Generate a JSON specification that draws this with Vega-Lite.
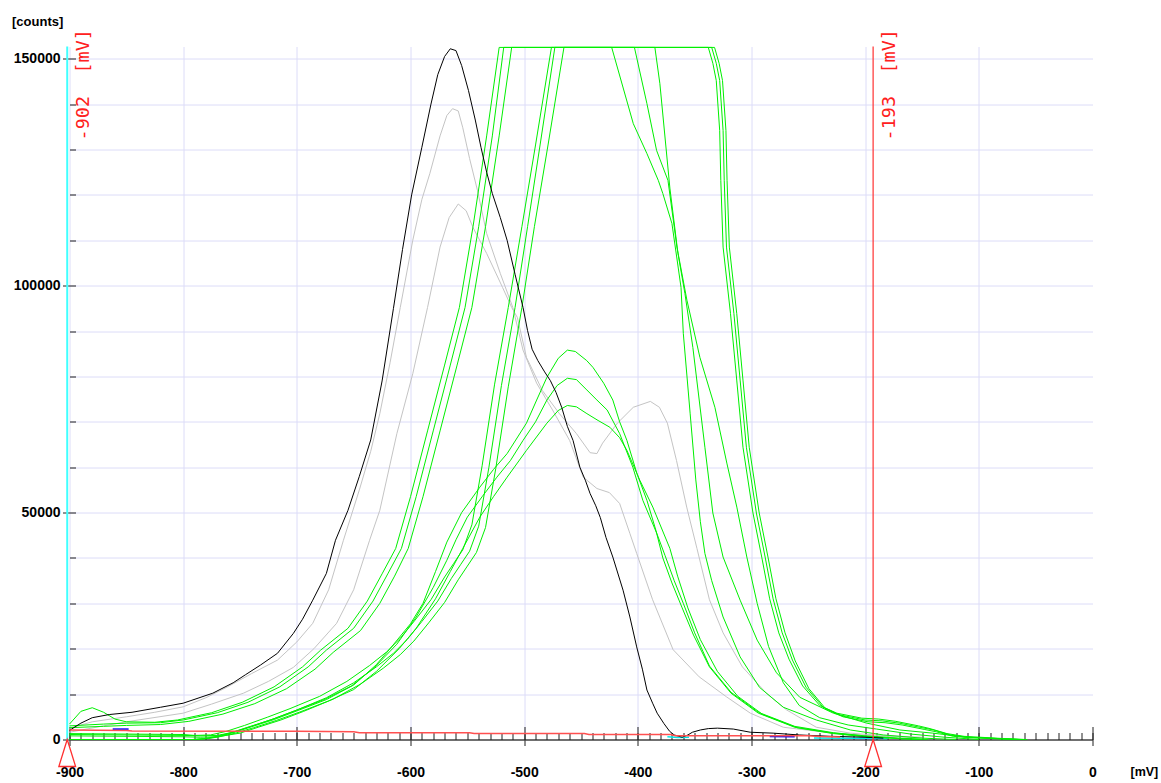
{
"$schema": "https://vega.github.io/schema/vega-lite/v6.json",
"width": 1023,
"height": 693,
"autosize": {"type": "none"},
"padding": {"left": 69.5, "top": 46.5, "right": 68.5, "bottom": 43.5},
"background": "white",
"config": {"view": {"stroke": null}, "axis": {"labelFont": "Liberation Sans", "titleFont": "Liberation Sans"}},
"datasets": {
"cursors": [{"id": "c1", "v": -902, "text": "-902\u00a0\u00a0[mV]"}, {"id": "c2", "v": -193, "text": "-193\u00a0\u00a0[mV]"}],
"blue": [{"s":"bl1","x":-862,"y":2300},{"s":"bl1","x":-848,"y":2300},{"s":"bl2","x":-284,"y":650},{"s":"bl2","x":-262,"y":600},{"s":"bl3","x":-205,"y":250},{"s":"bl3","x":-190,"y":250}],
"cyan": [{"s":"c1","x":-374,"y":600},{"s":"c1","x":-365,"y":450},{"s":"c1","x":-355,"y":500},{"s":"c2","x":-245,"y":350},{"s":"c2","x":-220,"y":300},{"s":"c2","x":-195,"y":250},{"s":"c2","x":-180,"y":200}],
"red": [{"s":"r","x":-900,"y":2100},{"s":"r","x":-850,"y":2000},{"s":"r","x":-845,"y":1900},{"s":"r","x":-700,"y":1800},{"s":"r","x":-650,"y":1700},{"s":"r","x":-645,"y":1500},{"s":"r","x":-548,"y":1480},{"s":"r","x":-544,"y":1340},{"s":"r","x":-447,"y":1340},{"s":"r","x":-443,"y":1120},{"s":"r","x":-371,"y":1120},{"s":"r","x":-367,"y":850},{"s":"r","x":-250,"y":800},{"s":"r","x":-240,"y":650},{"s":"r","x":-222,"y":550}],
"gray": [
{"s":"g1","x":-900,"y":2500},{"s":"g1","x":-880,"y":3900},{"s":"g1","x":-850,"y":5000},{"s":"g1","x":-825,"y":6000},{"s":"g1","x":-800,"y":7200},{"s":"g1","x":-780,"y":9200},{"s":"g1","x":-761,"y":11600},{"s":"g1","x":-740,"y":14500},{"s":"g1","x":-717,"y":17500},{"s":"g1","x":-700,"y":21500},{"s":"g1","x":-686,"y":25600},{"s":"g1","x":-672,"y":33000},{"s":"g1","x":-659,"y":43900},{"s":"g1","x":-645,"y":55000},{"s":"g1","x":-635,"y":63500},{"s":"g1","x":-627,"y":71800},{"s":"g1","x":-618,"y":83000},{"s":"g1","x":-609,"y":95200},{"s":"g1","x":-598,"y":110000},{"s":"g1","x":-590,"y":119000},{"s":"g1","x":-583,"y":124700},{"s":"g1","x":-574,"y":133000},{"s":"g1","x":-568,"y":137500},{"s":"g1","x":-563,"y":139000},{"s":"g1","x":-558,"y":138500},{"s":"g1","x":-554,"y":134800},{"s":"g1","x":-548,"y":128000},{"s":"g1","x":-541,"y":120900},{"s":"g1","x":-533,"y":111500},{"s":"g1","x":-521,"y":102700},{"s":"g1","x":-510,"y":95200},{"s":"g1","x":-501,"y":85800},{"s":"g1","x":-489,"y":78500},{"s":"g1","x":-475,"y":72600},{"s":"g1","x":-460,"y":65900},{"s":"g1","x":-448,"y":57800},{"s":"g1","x":-436,"y":55300},{"s":"g1","x":-425,"y":54400},{"s":"g1","x":-416,"y":52000},{"s":"g1","x":-407,"y":45400},{"s":"g1","x":-401,"y":41000},{"s":"g1","x":-387,"y":30800},{"s":"g1","x":-369,"y":19800},{"s":"g1","x":-346,"y":13800},{"s":"g1","x":-322,"y":9400},{"s":"g1","x":-301,"y":5800},{"s":"g1","x":-272,"y":2700},{"s":"g1","x":-228,"y":1400},{"s":"g1","x":-190,"y":800},{"s":"g1","x":-150,"y":400},
{"s":"g2","x":-900,"y":1600},{"s":"g2","x":-870,"y":3000},{"s":"g2","x":-850,"y":3900},{"s":"g2","x":-800,"y":5800},{"s":"g2","x":-775,"y":7800},{"s":"g2","x":-747,"y":10200},{"s":"g2","x":-725,"y":12800},{"s":"g2","x":-703,"y":15900},{"s":"g2","x":-685,"y":20000},{"s":"g2","x":-665,"y":25600},{"s":"g2","x":-650,"y":33000},{"s":"g2","x":-636,"y":43900},{"s":"g2","x":-627,"y":50500},{"s":"g2","x":-612,"y":67400},{"s":"g2","x":-598,"y":80600},{"s":"g2","x":-585,"y":95200},{"s":"g2","x":-574,"y":108500},{"s":"g2","x":-566,"y":115000},{"s":"g2","x":-558,"y":118000},{"s":"g2","x":-551,"y":116500},{"s":"g2","x":-545,"y":112800},{"s":"g2","x":-533,"y":107100},{"s":"g2","x":-519,"y":99600},{"s":"g2","x":-511,"y":95200},{"s":"g2","x":-506,"y":93000},{"s":"g2","x":-498,"y":84200},{"s":"g2","x":-484,"y":76900},{"s":"g2","x":-469,"y":71800},{"s":"g2","x":-454,"y":67400},{"s":"g2","x":-442,"y":63200},{"s":"g2","x":-436,"y":63000},{"s":"g2","x":-431,"y":65300},{"s":"g2","x":-418,"y":69700},{"s":"g2","x":-404,"y":73200},{"s":"g2","x":-389,"y":74500},{"s":"g2","x":-381,"y":73200},{"s":"g2","x":-374,"y":69700},{"s":"g2","x":-366,"y":61500},{"s":"g2","x":-357,"y":51200},{"s":"g2","x":-348,"y":42100},{"s":"g2","x":-337,"y":30800},{"s":"g2","x":-325,"y":23500},{"s":"g2","x":-308,"y":16000},{"s":"g2","x":-287,"y":10200},{"s":"g2","x":-269,"y":6500},{"s":"g2","x":-243,"y":2700},{"s":"g2","x":-213,"y":1400},{"s":"g2","x":-180,"y":800},{"s":"g2","x":-150,"y":500}
],
"black": [
{"s":"b","x":-900,"y":2000},{"s":"b","x":-890,"y":3600},{"s":"b","x":-880,"y":4800},{"s":"b","x":-865,"y":5500},{"s":"b","x":-845,"y":6000},{"s":"b","x":-820,"y":7100},{"s":"b","x":-800,"y":8000},{"s":"b","x":-774,"y":10200},{"s":"b","x":-756,"y":12500},{"s":"b","x":-745,"y":14300},{"s":"b","x":-732,"y":16400},{"s":"b","x":-717,"y":19000},{"s":"b","x":-703,"y":23400},{"s":"b","x":-695,"y":26500},{"s":"b","x":-686,"y":30700},{"s":"b","x":-674,"y":36600},{"s":"b","x":-666,"y":43900},{"s":"b","x":-655,"y":50500},{"s":"b","x":-645,"y":58000},{"s":"b","x":-635,"y":66000},{"s":"b","x":-625,"y":79000},{"s":"b","x":-615,"y":95000},{"s":"b","x":-607,"y":108000},{"s":"b","x":-599,"y":120000},{"s":"b","x":-590,"y":130500},{"s":"b","x":-582,"y":140000},{"s":"b","x":-576,"y":146500},{"s":"b","x":-570,"y":150500},{"s":"b","x":-565,"y":152200},{"s":"b","x":-560,"y":151800},{"s":"b","x":-555,"y":148500},{"s":"b","x":-549,"y":143000},{"s":"b","x":-543,"y":136500},{"s":"b","x":-538,"y":130500},{"s":"b","x":-533,"y":125000},{"s":"b","x":-528,"y":120300},{"s":"b","x":-521,"y":115000},{"s":"b","x":-515,"y":110000},{"s":"b","x":-508,"y":102500},{"s":"b","x":-501,"y":95200},{"s":"b","x":-497,"y":90100},{"s":"b","x":-493,"y":86000},{"s":"b","x":-488,"y":83500},{"s":"b","x":-482,"y":81000},{"s":"b","x":-477,"y":79100},{"s":"b","x":-472,"y":76500},{"s":"b","x":-467,"y":73200},{"s":"b","x":-462,"y":69000},{"s":"b","x":-457,"y":65900},{"s":"b","x":-451,"y":60000},{"s":"b","x":-446,"y":57000},{"s":"b","x":-442,"y":54200},{"s":"b","x":-437,"y":51500},{"s":"b","x":-433,"y":48900},{"s":"b","x":-428,"y":44500},{"s":"b","x":-422,"y":40200},{"s":"b","x":-413,"y":32900},{"s":"b","x":-407,"y":27000},{"s":"b","x":-401,"y":20400},{"s":"b","x":-396,"y":15500},{"s":"b","x":-392,"y":10900},{"s":"b","x":-387,"y":8000},{"s":"b","x":-383,"y":5800},{"s":"b","x":-377,"y":3500},{"s":"b","x":-372,"y":1800},{"s":"b","x":-368,"y":1000},{"s":"b","x":-361,"y":500},{"s":"b","x":-356,"y":1000},{"s":"b","x":-352,"y":1600},{"s":"b","x":-345,"y":2100},{"s":"b","x":-338,"y":2400},{"s":"b","x":-330,"y":2500},{"s":"b","x":-316,"y":2300},{"s":"b","x":-301,"y":1600},{"s":"b","x":-281,"y":1400},{"s":"b","x":-258,"y":1000},{"s":"b","x":-230,"y":700},{"s":"b","x":-200,"y":500},{"s":"b","x":-184,"y":300}
],
"green": [
{"s":"s1a","x":-900,"y":3400},{"s":"s1a","x":-890,"y":6200},{"s":"s1a","x":-880,"y":7000},{"s":"s1a","x":-870,"y":6000},{"s":"s1a","x":-860,"y":4500},{"s":"s1a","x":-850,"y":3900},{"s":"s1a","x":-825,"y":3800},{"s":"s1a","x":-805,"y":4300},{"s":"s1a","x":-775,"y":5900},{"s":"s1a","x":-748,"y":8200},{"s":"s1a","x":-720,"y":11600},{"s":"s1a","x":-695,"y":16000},{"s":"s1a","x":-679,"y":19700},{"s":"s1a","x":-655,"y":24500},{"s":"s1a","x":-638,"y":30500},{"s":"s1a","x":-625,"y":36500},{"s":"s1a","x":-613,"y":42100},{"s":"s1a","x":-600,"y":53500},{"s":"s1a","x":-585,"y":68000},{"s":"s1a","x":-570,"y":82500},{"s":"s1a","x":-557,"y":95200},{"s":"s1a","x":-545,"y":113000},{"s":"s1a","x":-533,"y":133000},{"s":"s1a","x":-522,"y":152500},{"s":"s1a","x":-338,"y":152500},{"s":"s1a","x":-334,"y":149000},{"s":"s1a","x":-331,"y":145200},{"s":"s1a","x":-328,"y":134200},{"s":"s1a","x":-327,"y":123200},{"s":"s1a","x":-325,"y":108500},{"s":"s1a","x":-318.5,"y":93900},{"s":"s1a","x":-313,"y":79200},{"s":"s1a","x":-307.5,"y":64400},{"s":"s1a","x":-298.7,"y":49900},{"s":"s1a","x":-291,"y":40200},{"s":"s1a","x":-284,"y":31000},{"s":"s1a","x":-276,"y":23500},{"s":"s1a","x":-267,"y":17700},{"s":"s1a","x":-255,"y":11800},{"s":"s1a","x":-240,"y":7500},{"s":"s1a","x":-225,"y":5800},{"s":"s1a","x":-203,"y":4700},{"s":"s1a","x":-188,"y":4500},{"s":"s1a","x":-173,"y":4000},{"s":"s1a","x":-153,"y":3000},{"s":"s1a","x":-143,"y":2400},{"s":"s1a","x":-128,"y":1300},{"s":"s1a","x":-113,"y":700},{"s":"s1a","x":-85,"y":300},{"s":"s1a","x":-63,"y":0},
{"s":"s1b","x":-900,"y":3000},{"s":"s1b","x":-870,"y":3400},{"s":"s1b","x":-850,"y":3600},{"s":"s1b","x":-820,"y":3700},{"s":"s1b","x":-800,"y":4300},{"s":"s1b","x":-770,"y":5900},{"s":"s1b","x":-743,"y":8200},{"s":"s1b","x":-715,"y":11600},{"s":"s1b","x":-690,"y":16000},{"s":"s1b","x":-674,"y":19700},{"s":"s1b","x":-650,"y":24500},{"s":"s1b","x":-633,"y":30500},{"s":"s1b","x":-620,"y":36500},{"s":"s1b","x":-608,"y":42100},{"s":"s1b","x":-595,"y":53500},{"s":"s1b","x":-580,"y":68000},{"s":"s1b","x":-565,"y":82500},{"s":"s1b","x":-552,"y":95200},{"s":"s1b","x":-540,"y":113000},{"s":"s1b","x":-528,"y":133000},{"s":"s1b","x":-518,"y":152500},{"s":"s1b","x":-335,"y":152500},{"s":"s1b","x":-331,"y":149000},{"s":"s1b","x":-328,"y":145200},{"s":"s1b","x":-325,"y":134200},{"s":"s1b","x":-324,"y":123200},{"s":"s1b","x":-322,"y":108500},{"s":"s1b","x":-315.5,"y":93900},{"s":"s1b","x":-310,"y":79200},{"s":"s1b","x":-304.5,"y":64400},{"s":"s1b","x":-295.7,"y":49900},{"s":"s1b","x":-288,"y":40200},{"s":"s1b","x":-281,"y":31000},{"s":"s1b","x":-273,"y":23500},{"s":"s1b","x":-264,"y":17500},{"s":"s1b","x":-252,"y":11500},{"s":"s1b","x":-237,"y":7100},{"s":"s1b","x":-222,"y":5400},{"s":"s1b","x":-200,"y":4300},{"s":"s1b","x":-185,"y":4100},{"s":"s1b","x":-170,"y":3600},{"s":"s1b","x":-150,"y":2600},{"s":"s1b","x":-140,"y":2100},{"s":"s1b","x":-125,"y":1000},{"s":"s1b","x":-110,"y":500},{"s":"s1b","x":-82,"y":200},{"s":"s1b","x":-60,"y":0},
{"s":"s1c","x":-900,"y":2600},{"s":"s1c","x":-870,"y":2900},{"s":"s1c","x":-850,"y":3100},{"s":"s1c","x":-820,"y":3300},{"s":"s1c","x":-795,"y":4000},{"s":"s1c","x":-765,"y":5600},{"s":"s1c","x":-737,"y":7900},{"s":"s1c","x":-709,"y":11200},{"s":"s1c","x":-684,"y":15500},{"s":"s1c","x":-668,"y":19200},{"s":"s1c","x":-644,"y":24000},{"s":"s1c","x":-627,"y":30000},{"s":"s1c","x":-614,"y":36000},{"s":"s1c","x":-602,"y":42100},{"s":"s1c","x":-589,"y":53500},{"s":"s1c","x":-574,"y":68000},{"s":"s1c","x":-559,"y":82500},{"s":"s1c","x":-546,"y":95200},{"s":"s1c","x":-534,"y":113000},{"s":"s1c","x":-522,"y":133000},{"s":"s1c","x":-511,"y":152500},{"s":"s1c","x":-332.5,"y":152500},{"s":"s1c","x":-328.5,"y":149000},{"s":"s1c","x":-325.5,"y":145200},{"s":"s1c","x":-322.5,"y":134200},{"s":"s1c","x":-321.5,"y":123200},{"s":"s1c","x":-319.5,"y":108500},{"s":"s1c","x":-313,"y":93900},{"s":"s1c","x":-307.5,"y":79200},{"s":"s1c","x":-302,"y":64400},{"s":"s1c","x":-293.2,"y":49900},{"s":"s1c","x":-285.5,"y":40200},{"s":"s1c","x":-278.5,"y":31000},{"s":"s1c","x":-270.5,"y":23500},{"s":"s1c","x":-261.5,"y":17300},{"s":"s1c","x":-249.5,"y":11200},{"s":"s1c","x":-234.5,"y":6700},{"s":"s1c","x":-219.5,"y":5000},{"s":"s1c","x":-197.5,"y":3900},{"s":"s1c","x":-182.5,"y":3700},{"s":"s1c","x":-167.5,"y":3200},{"s":"s1c","x":-147.5,"y":2200},{"s":"s1c","x":-137.5,"y":1700},{"s":"s1c","x":-122.5,"y":700},{"s":"s1c","x":-107.5,"y":400},{"s":"s1c","x":-79.5,"y":100},{"s":"s1c","x":-57.5,"y":0},
{"s":"s2a","x":-900,"y":1300},{"s":"s2a","x":-850,"y":1200},{"s":"s2a","x":-800,"y":1100},{"s":"s2a","x":-790,"y":900},{"s":"s2a","x":-776,"y":1000},{"s":"s2a","x":-762,"y":1800},{"s":"s2a","x":-746,"y":3100},{"s":"s2a","x":-726,"y":4900},{"s":"s2a","x":-706,"y":6800},{"s":"s2a","x":-680,"y":9500},{"s":"s2a","x":-656,"y":12800},{"s":"s2a","x":-636,"y":16300},{"s":"s2a","x":-621,"y":19300},{"s":"s2a","x":-609,"y":22300},{"s":"s2a","x":-596,"y":26300},{"s":"s2a","x":-582,"y":30800},{"s":"s2a","x":-570,"y":35800},{"s":"s2a","x":-562,"y":38800},{"s":"s2a","x":-554,"y":41800},{"s":"s2a","x":-546,"y":47300},{"s":"s2a","x":-537,"y":60300},{"s":"s2a","x":-526,"y":78300},{"s":"s2a","x":-514,"y":95200},{"s":"s2a","x":-502,"y":113000},{"s":"s2a","x":-490,"y":131000},{"s":"s2a","x":-476,"y":152500},{"s":"s2a","x":-423,"y":152500},{"s":"s2a","x":-404,"y":135700},{"s":"s2a","x":-392,"y":129100},{"s":"s2a","x":-382,"y":123200},{"s":"s2a","x":-378,"y":120300},{"s":"s2a","x":-370,"y":113700},{"s":"s2a","x":-362,"y":99600},{"s":"s2a","x":-360,"y":89500},{"s":"s2a","x":-354,"y":71900},{"s":"s2a","x":-349,"y":57200},{"s":"s2a","x":-345,"y":48000},{"s":"s2a","x":-341,"y":41000},{"s":"s2a","x":-335,"y":35000},{"s":"s2a","x":-325,"y":27000},{"s":"s2a","x":-310,"y":18200},{"s":"s2a","x":-293,"y":11500},{"s":"s2a","x":-272,"y":7100},{"s":"s2a","x":-243,"y":4300},{"s":"s2a","x":-213,"y":2100},{"s":"s2a","x":-184,"y":1000},{"s":"s2a","x":-150,"y":300},{"s":"s2a","x":-120,"y":0},
{"s":"s2b","x":-900,"y":1100},{"s":"s2b","x":-850,"y":1000},{"s":"s2b","x":-800,"y":900},{"s":"s2b","x":-785,"y":800},{"s":"s2b","x":-770,"y":900},{"s":"s2b","x":-756,"y":1600},{"s":"s2b","x":-740,"y":2900},{"s":"s2b","x":-720,"y":4600},{"s":"s2b","x":-700,"y":6500},{"s":"s2b","x":-674,"y":9200},{"s":"s2b","x":-650,"y":12500},{"s":"s2b","x":-630,"y":16000},{"s":"s2b","x":-615,"y":19000},{"s":"s2b","x":-603,"y":22000},{"s":"s2b","x":-590,"y":26000},{"s":"s2b","x":-576,"y":30500},{"s":"s2b","x":-564,"y":35500},{"s":"s2b","x":-556,"y":38500},{"s":"s2b","x":-548,"y":41500},{"s":"s2b","x":-540,"y":47000},{"s":"s2b","x":-531,"y":60000},{"s":"s2b","x":-520,"y":78000},{"s":"s2b","x":-508,"y":95200},{"s":"s2b","x":-497,"y":113000},{"s":"s2b","x":-486,"y":131000},{"s":"s2b","x":-473,"y":152500},{"s":"s2b","x":-403,"y":152500},{"s":"s2b","x":-392,"y":140100},{"s":"s2b","x":-383.5,"y":129800},{"s":"s2b","x":-373.5,"y":123200},{"s":"s2b","x":-365.6,"y":108500},{"s":"s2b","x":-356.8,"y":96800},{"s":"s2b","x":-345.4,"y":84200},{"s":"s2b","x":-332.2,"y":73200},{"s":"s2b","x":-321.7,"y":60900},{"s":"s2b","x":-312.9,"y":51200},{"s":"s2b","x":-304.1,"y":40200},{"s":"s2b","x":-295,"y":30000},{"s":"s2b","x":-285,"y":20500},{"s":"s2b","x":-272,"y":12500},{"s":"s2b","x":-258,"y":7500},{"s":"s2b","x":-240,"y":4800},{"s":"s2b","x":-215,"y":3200},{"s":"s2b","x":-190,"y":2300},{"s":"s2b","x":-160,"y":1200},{"s":"s2b","x":-130,"y":500},{"s":"s2b","x":-100,"y":0},
{"s":"s2c","x":-900,"y":800},{"s":"s2c","x":-850,"y":700},{"s":"s2c","x":-800,"y":600},{"s":"s2c","x":-785,"y":500},{"s":"s2c","x":-770,"y":600},{"s":"s2c","x":-750,"y":1400},{"s":"s2c","x":-734,"y":2700},{"s":"s2c","x":-714,"y":4300},{"s":"s2c","x":-694,"y":6200},{"s":"s2c","x":-668,"y":8900},{"s":"s2c","x":-644,"y":12200},{"s":"s2c","x":-624,"y":15700},{"s":"s2c","x":-609,"y":18700},{"s":"s2c","x":-597,"y":21700},{"s":"s2c","x":-584,"y":25700},{"s":"s2c","x":-570,"y":30200},{"s":"s2c","x":-558,"y":35200},{"s":"s2c","x":-550,"y":38200},{"s":"s2c","x":-542,"y":41200},{"s":"s2c","x":-534,"y":46700},{"s":"s2c","x":-525,"y":59700},{"s":"s2c","x":-514,"y":77700},{"s":"s2c","x":-502,"y":95200},{"s":"s2c","x":-491,"y":113000},{"s":"s2c","x":-479,"y":131000},{"s":"s2c","x":-465,"y":152500},{"s":"s2c","x":-385,"y":152500},{"s":"s2c","x":-380.6,"y":144500},{"s":"s2c","x":-371.8,"y":121500},{"s":"s2c","x":-364.7,"y":107100},{"s":"s2c","x":-358.6,"y":98300},{"s":"s2c","x":-351.6,"y":86400},{"s":"s2c","x":-341,"y":64400},{"s":"s2c","x":-334,"y":49900},{"s":"s2c","x":-325,"y":40200},{"s":"s2c","x":-310,"y":30700},{"s":"s2c","x":-295,"y":21900},{"s":"s2c","x":-278,"y":14700},{"s":"s2c","x":-257.5,"y":9300},{"s":"s2c","x":-228,"y":5800},{"s":"s2c","x":-198.5,"y":3600},{"s":"s2c","x":-169.5,"y":2100},{"s":"s2c","x":-140.5,"y":1400},{"s":"s2c","x":-110.6,"y":500},{"s":"s2c","x":-82,"y":200},{"s":"s2c","x":-65,"y":0},
{"s":"u1","x":-900,"y":0},{"s":"u1","x":-790,"y":0},{"s":"u1","x":-780,"y":200},{"s":"u1","x":-770,"y":600},{"s":"u1","x":-756,"y":1500},{"s":"u1","x":-740,"y":2800},{"s":"u1","x":-720,"y":4400},{"s":"u1","x":-700,"y":6300},{"s":"u1","x":-674,"y":8800},{"s":"u1","x":-650,"y":12000},{"s":"u1","x":-630,"y":16500},{"s":"u1","x":-618,"y":20000},{"s":"u1","x":-600,"y":25500},{"s":"u1","x":-589,"y":30000},{"s":"u1","x":-578,"y":37000},{"s":"u1","x":-568,"y":43500},{"s":"u1","x":-555,"y":50000},{"s":"u1","x":-539,"y":55600},{"s":"u1","x":-527,"y":59500},{"s":"u1","x":-515,"y":63000},{"s":"u1","x":-498,"y":69700},{"s":"u1","x":-489,"y":74800},{"s":"u1","x":-480,"y":79800},{"s":"u1","x":-470,"y":84000},{"s":"u1","x":-462,"y":85800},{"s":"u1","x":-455,"y":85500},{"s":"u1","x":-445,"y":83500},{"s":"u1","x":-439.5,"y":82000},{"s":"u1","x":-430,"y":78500},{"s":"u1","x":-422,"y":74800},{"s":"u1","x":-416,"y":70000},{"s":"u1","x":-409.6,"y":65900},{"s":"u1","x":-400.8,"y":58600},{"s":"u1","x":-392,"y":52700},{"s":"u1","x":-384,"y":46000},{"s":"u1","x":-378,"y":40000},{"s":"u1","x":-370,"y":34500},{"s":"u1","x":-361,"y":29000},{"s":"u1","x":-351,"y":23000},{"s":"u1","x":-337,"y":16000},{"s":"u1","x":-318,"y":10200},{"s":"u1","x":-294,"y":5800},{"s":"u1","x":-262,"y":2700},{"s":"u1","x":-228,"y":1400},{"s":"u1","x":-200,"y":700},{"s":"u1","x":-170,"y":200},{"s":"u1","x":-150,"y":0},
{"s":"u2","x":-900,"y":0},{"s":"u2","x":-792,"y":0},{"s":"u2","x":-782,"y":200},{"s":"u2","x":-772,"y":600},{"s":"u2","x":-758,"y":1500},{"s":"u2","x":-742,"y":2800},{"s":"u2","x":-722,"y":4400},{"s":"u2","x":-702,"y":6300},{"s":"u2","x":-676,"y":8800},{"s":"u2","x":-652,"y":11800},{"s":"u2","x":-632,"y":15800},{"s":"u2","x":-612,"y":21000},{"s":"u2","x":-595,"y":27000},{"s":"u2","x":-580,"y":33500},{"s":"u2","x":-568,"y":39500},{"s":"u2","x":-560,"y":44000},{"s":"u2","x":-550,"y":49000},{"s":"u2","x":-537,"y":53500},{"s":"u2","x":-524,"y":57800},{"s":"u2","x":-512,"y":61500},{"s":"u2","x":-501,"y":65900},{"s":"u2","x":-490,"y":70000},{"s":"u2","x":-480,"y":74800},{"s":"u2","x":-471,"y":78000},{"s":"u2","x":-462,"y":79600},{"s":"u2","x":-454,"y":79300},{"s":"u2","x":-444.8,"y":77000},{"s":"u2","x":-436,"y":74800},{"s":"u2","x":-427,"y":72600},{"s":"u2","x":-416,"y":67400},{"s":"u2","x":-404.4,"y":60000},{"s":"u2","x":-395.6,"y":52700},{"s":"u2","x":-383.3,"y":45400},{"s":"u2","x":-376,"y":40500},{"s":"u2","x":-368,"y":35000},{"s":"u2","x":-360,"y":30000},{"s":"u2","x":-350,"y":23500},{"s":"u2","x":-337,"y":16200},{"s":"u2","x":-318,"y":10400},{"s":"u2","x":-294,"y":6000},{"s":"u2","x":-262,"y":2900},{"s":"u2","x":-228,"y":1500},{"s":"u2","x":-200,"y":800},{"s":"u2","x":-170,"y":300},{"s":"u2","x":-145,"y":0},
{"s":"u3","x":-900,"y":0},{"s":"u3","x":-788,"y":0},{"s":"u3","x":-778,"y":200},{"s":"u3","x":-768,"y":600},{"s":"u3","x":-754,"y":1400},{"s":"u3","x":-738,"y":2600},{"s":"u3","x":-718,"y":4200},{"s":"u3","x":-698,"y":6000},{"s":"u3","x":-672,"y":8500},{"s":"u3","x":-650,"y":11000},{"s":"u3","x":-630,"y":15000},{"s":"u3","x":-610,"y":20000},{"s":"u3","x":-595,"y":24500},{"s":"u3","x":-578,"y":31000},{"s":"u3","x":-565,"y":37000},{"s":"u3","x":-554,"y":42100},{"s":"u3","x":-539,"y":49000},{"s":"u3","x":-527,"y":53500},{"s":"u3","x":-515,"y":57800},{"s":"u3","x":-498,"y":63700},{"s":"u3","x":-480,"y":69700},{"s":"u3","x":-470,"y":72500},{"s":"u3","x":-462,"y":73600},{"s":"u3","x":-454,"y":73300},{"s":"u3","x":-444.8,"y":71800},{"s":"u3","x":-435,"y":70300},{"s":"u3","x":-424.6,"y":68800},{"s":"u3","x":-416,"y":66500},{"s":"u3","x":-409.6,"y":63700},{"s":"u3","x":-398.2,"y":57100},{"s":"u3","x":-386.8,"y":51200},{"s":"u3","x":-371.8,"y":42100},{"s":"u3","x":-365,"y":36000},{"s":"u3","x":-356,"y":29000},{"s":"u3","x":-345,"y":22000},{"s":"u3","x":-330,"y":15000},{"s":"u3","x":-312,"y":9500},{"s":"u3","x":-290,"y":5500},{"s":"u3","x":-260,"y":2600},{"s":"u3","x":-228,"y":1300},{"s":"u3","x":-200,"y":600},{"s":"u3","x":-170,"y":200},{"s":"u3","x":-150,"y":0}
]
},
"layer": [
{"data": {"name": "blue"}, "mark": {"type": "line", "color": "#0000ff", "strokeWidth": 1.5},
 "encoding": {"x": {"field": "x", "type": "quantitative", "scale": {"domain": [-900, 0], "nice": false, "zero": false}, "axis": null},
  "y": {"field": "y", "type": "quantitative", "scale": {"domain": [0, 152700], "nice": false}, "axis": null}, "detail": {"field": "s"}}},
{"data": {"name": "cyan"}, "mark": {"type": "line", "color": "#00e8e8", "strokeWidth": 1.5},
 "encoding": {"x": {"field": "x", "type": "quantitative", "scale": {"domain": [-900, 0], "nice": false, "zero": false}, "axis": null},
  "y": {"field": "y", "type": "quantitative", "scale": {"domain": [0, 152700], "nice": false}, "axis": null}, "detail": {"field": "s"}}},
{"data": {"name": "gray"}, "mark": {"type": "line", "color": "#c4c4c4", "strokeWidth": 1},
 "encoding": {
  "x": {"field": "x", "type": "quantitative", "scale": {"domain": [-900, 0], "nice": false, "zero": false},
   "axis": {"orient": "bottom", "values": [-900,-800,-700,-600,-500,-400,-300,-200,-100,0], "labelExpr": "toString(datum.value)", "grid": false, "domain": true, "domainColor": "#404040", "domainWidth": 1.5, "ticks": true, "tickSize": 6, "tickColor": "#202020", "tickWidth": 1, "labels": true, "labelFontSize": 14, "labelFontWeight": "bold", "labelColor": "#000000", "labelPadding": 20, "labelBaseline": "top", "labelAlign": "center", "labelFlush": false, "labelOverlap": false, "title": "[mV]", "titleFontSize": 12.5, "titleFontWeight": "bold", "titleColor": "#000000", "titleX": 1060.5, "titleY": 32, "titleAlign": "left", "titleBaseline": "middle", "titleAngle": 0, "zindex": 0}},
  "y": {"field": "y", "type": "quantitative", "scale": {"domain": [0, 152700], "nice": false},
   "axis": {"orient": "left", "values": [0, 50000, 100000, 150000], "labelExpr": "toString(datum.value)", "grid": false, "domain": false, "ticks": true, "tickSize": 7, "tickColor": "#202020", "tickWidth": 1, "labels": true, "labelFontSize": 14, "labelFontWeight": "bold", "labelColor": "#000000", "labelPadding": 2.5, "labelBaseline": "middle", "labelAlign": "right", "labelFlush": false, "labelOverlap": false, "title": "[counts]", "titleAngle": 0, "titleX": -58, "titleY": -25.5, "titleAlign": "left", "titleBaseline": "middle", "titleFontSize": 13, "titleFontWeight": "bold", "titleColor": "#000000", "zindex": 0}},
  "detail": {"field": "s"}}},
{"data": {"name": "green"}, "mark": {"type": "line", "color": "#00f000", "strokeWidth": 1},
 "encoding": {
  "x": {"field": "x", "type": "quantitative", "scale": {"domain": [-900, 0], "nice": false, "zero": false},
   "axis": {"orient": "bottom", "values": [-900,-890,-880,-870,-860,-850,-840,-830,-820,-810,-800,-790,-780,-770,-760,-750,-740,-730,-720,-710,-700,-690,-680,-670,-660,-650,-640,-630,-620,-610,-600,-590,-580,-570,-560,-550,-540,-530,-520,-510,-500,-490,-480,-470,-460,-450,-440,-430,-420,-410,-400,-390,-380,-370,-360,-350,-340,-330,-320,-310,-300,-290,-280,-270,-260,-250,-240,-230,-220,-210,-200,-190,-180,-170,-160,-150,-140,-130,-120,-110,-100,-90,-80,-70,-60,-50,-40,-30,-20,-10,0], "grid": false, "domain": false, "ticks": true, "tickSize": -7, "tickColor": "#202020", "tickWidth": 1, "labels": false, "title": null, "zindex": 0}},
  "y": {"field": "y", "type": "quantitative", "scale": {"domain": [0, 152700], "nice": false},
   "axis": {"orient": "left", "values": [10000,20000,30000,40000,50000,60000,70000,80000,90000,100000,110000,120000,130000,140000,150000], "grid": false, "domain": false, "ticks": true, "tickSize": -6, "tickColor": "#202020", "tickWidth": 1, "labels": false, "title": null, "zindex": 0}},
  "detail": {"field": "s"}}},
{"data": {"name": "black"}, "mark": {"type": "line", "color": "#000000", "strokeWidth": 1},
 "encoding": {
  "x": {"field": "x", "type": "quantitative", "scale": {"domain": [-900, 0], "nice": false, "zero": false},
   "axis": {"orient": "bottom", "values": [-900,-800,-700,-600,-500,-400,-300,-200,-100], "grid": true, "gridColor": "#dcdcf8", "gridWidth": 1, "domain": false, "ticks": false, "labels": false, "title": null, "zindex": 0}},
  "y": {"field": "y", "type": "quantitative", "scale": {"domain": [0, 152700], "nice": false},
   "axis": {"orient": "left", "values": [10000,20000,30000,40000,50000,60000,70000,80000,90000,100000,110000,120000,130000,140000,150000], "grid": true, "gridColor": "#dcdcf8", "gridWidth": 1, "domain": false, "ticks": false, "labels": false, "title": null, "zindex": 0}},
  "detail": {"field": "s"}}},
{"data": {"name": "red"}, "mark": {"type": "line", "color": "#ff5050", "strokeWidth": 1.5},
 "encoding": {
  "x": {"field": "x", "type": "quantitative", "scale": {"domain": [-900, 0], "nice": false, "zero": false},
   "axis": {"orient": "bottom", "values": [-900,-800,-700,-600,-500,-400,-300,-200,-100,0], "grid": false, "domain": false, "ticks": true, "tickSize": -13, "tickColor": "#202020", "tickWidth": 1, "labels": false, "title": null, "zindex": 0}},
  "y": {"field": "y", "type": "quantitative", "scale": {"domain": [0, 152700], "nice": false}, "axis": null},
  "detail": {"field": "s"}}},
{"data": {"name": "cursors"}, "transform": [{"filter": "datum.id == 'c1'"}], "mark": {"type": "rule", "color": "#40ffff", "strokeWidth": 2},
 "encoding": {"x": {"field": "v", "type": "quantitative", "scale": {"domain": [-900, 0], "nice": false, "zero": false}, "axis": null},
  "y": {"datum": 0, "type": "quantitative", "scale": {"domain": [0, 152700], "nice": false}, "axis": null}, "y2": {"datum": 152700}}},
{"data": {"name": "cursors"}, "transform": [{"filter": "datum.id == 'c2'"}], "mark": {"type": "rule", "color": "#ff4040", "strokeWidth": 1.3},
 "encoding": {"x": {"field": "v", "type": "quantitative", "scale": {"domain": [-900, 0], "nice": false, "zero": false}, "axis": null},
  "y": {"datum": 0, "type": "quantitative", "scale": {"domain": [0, 152700], "nice": false}, "axis": null}, "y2": {"datum": 152700}}},
{"data": {"name": "cursors"}, "mark": {"type": "text", "angle": 270, "align": "left", "baseline": "middle", "dy": 16, "font": "DejaVu Sans Mono", "fontSize": 18.5, "color": "#ff2020"},
 "encoding": {"x": {"field": "v", "type": "quantitative", "scale": {"domain": [-900, 0], "nice": false, "zero": false}, "axis": null},
  "y": {"datum": 132000, "type": "quantitative", "scale": {"domain": [0, 152700], "nice": false}, "axis": null}, "text": {"field": "text"}}},
{"data": {"name": "cursors"}, "mark": {"type": "point", "shape": "M0,0L-0.31,1L0.31,1Z", "size": 2916, "filled": false, "color": "#ff3030", "strokeWidth": 1.3, "opacity": 1},
 "encoding": {"x": {"field": "v", "type": "quantitative", "scale": {"domain": [-900, 0], "nice": false, "zero": false}, "axis": null},
  "y": {"datum": 0, "type": "quantitative", "scale": {"domain": [0, 152700], "nice": false}, "axis": null}}}
],
"resolve": {"axis": {"x": "independent", "y": "independent"}}
}
